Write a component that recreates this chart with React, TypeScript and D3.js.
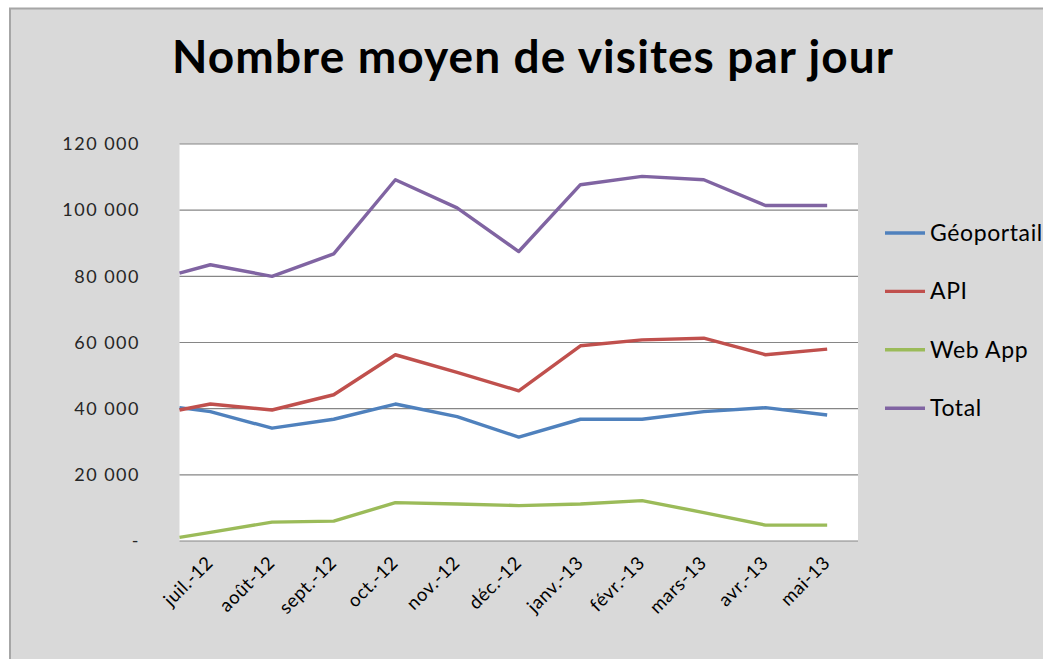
import React from "react";
import * as d3 from "d3";

const categories = ["juil.-12", "août-12", "sept.-12", "oct.-12", "nov.-12", "déc.-12", "janv.-13", "févr.-13", "mars-13", "avr.-13", "mai-13"];
// value at the left edge of the plot (line enters from the previous month)
const edgeValues = { geo: 40300, api: 39600, web: 1100, total: 81000 };
const geoportail = [39100, 34100, 36800, 41400, 37600, 31400, 36800, 36800, 39100, 40300, 38100];
const api = [41400, 39600, 44200, 56300, 51000, 45400, 59000, 60800, 61300, 56300, 58000];
const webApp = [2600, 5700, 6000, 11600, 11200, 10700, 11200, 12200, 8600, 4800, 4800];
const total = [83500, 80000, 86800, 109200, 100700, 87500, 107700, 110200, 109200, 101400, 101400];
const yTicks = [0, 20000, 40000, 60000, 80000, 100000, 120000];

const series = [
  { name: "Géoportail", values: geoportail, edge: edgeValues.geo, color: "#4F81BD" },
  { name: "API", values: api, edge: edgeValues.api, color: "#C0504D" },
  { name: "Web App", values: webApp, edge: edgeValues.web, color: "#9BBB59" },
  { name: "Total", values: total, edge: edgeValues.total, color: "#8064A2" },
];

const W = 1043, H = 659;
const plot = { left: 179.5, right: 858, top: 144, bottom: 541 };

export default function App() {
  const x = d3.scaleBand<string>().domain(categories).range([plot.left, plot.right]).padding(0);
  const y = d3.scaleLinear().domain([0, 120000]).range([plot.bottom, plot.top]);
  const cx = (c: string) => (x(c) as number) + x.bandwidth() / 2;
  const fmt = (v: number) => (v === 0 ? "-" : d3.format(",")(v).replace(/,/g, " "));
  const line = d3.line<[number, number]>().x((d) => d[0]).y((d) => d[1]);

  return (
    <svg width={W} height={H} style={{ position: "fixed", left: 0, top: 0 }} fontFamily="Lato, 'Open Sans', sans-serif">
      <rect x={0} y={0} width={W} height={H} fill="#ffffff" />
      <rect x={10} y={8.5} width={W + 10} height={H + 10} fill="#d9d9d9" stroke="#a6a6a6" strokeWidth={2} />
      <text x={533} y={73} textAnchor="middle" fontSize={46} fontWeight="bold" letterSpacing={1.1} fill="#000">
        Nombre moyen de visites par jour
      </text>
      <rect x={plot.left} y={plot.top} width={plot.right - plot.left} height={plot.bottom - plot.top} fill="#ffffff" />
      {yTicks.map((t) => (
        <g key={t}>
          <line x1={plot.left} x2={plot.right} y1={y(t)} y2={y(t)} stroke="#868686" strokeWidth={1.2} />
          <text x={140} y={y(t)} dy="0.35em" textAnchor="end" fontSize={18} letterSpacing={1.5} fill="#262626">
            {fmt(t)}
          </text>
        </g>
      ))}
      {series.map((s) => {
        const pts: [number, number][] = [[plot.left, y(s.edge)], ...s.values.map((v, i) => [cx(categories[i]), y(v)] as [number, number])];
        return <path key={s.name} d={line(pts) as string} fill="none" stroke={s.color} strokeWidth={3.4} strokeLinejoin="round" />;
      })}
      {categories.map((c) => (
        <text key={c} transform={`translate(${cx(c) + 4},${564}) rotate(-45)`} textAnchor="end" fontSize={18.5} letterSpacing={0.6} fill="#000">
          {c}
        </text>
      ))}
      {series.map((s, i) => {
        const ly = 233 + i * 58.4;
        return (
          <g key={s.name}>
            <line x1={885} x2={925} y1={ly} y2={ly} stroke={s.color} strokeWidth={3.4} />
            <text x={930} y={ly} dy="0.35em" fontSize={23} letterSpacing={0.6} fill="#000">
              {s.name}
            </text>
          </g>
        );
      })}
    </svg>
  );
}
